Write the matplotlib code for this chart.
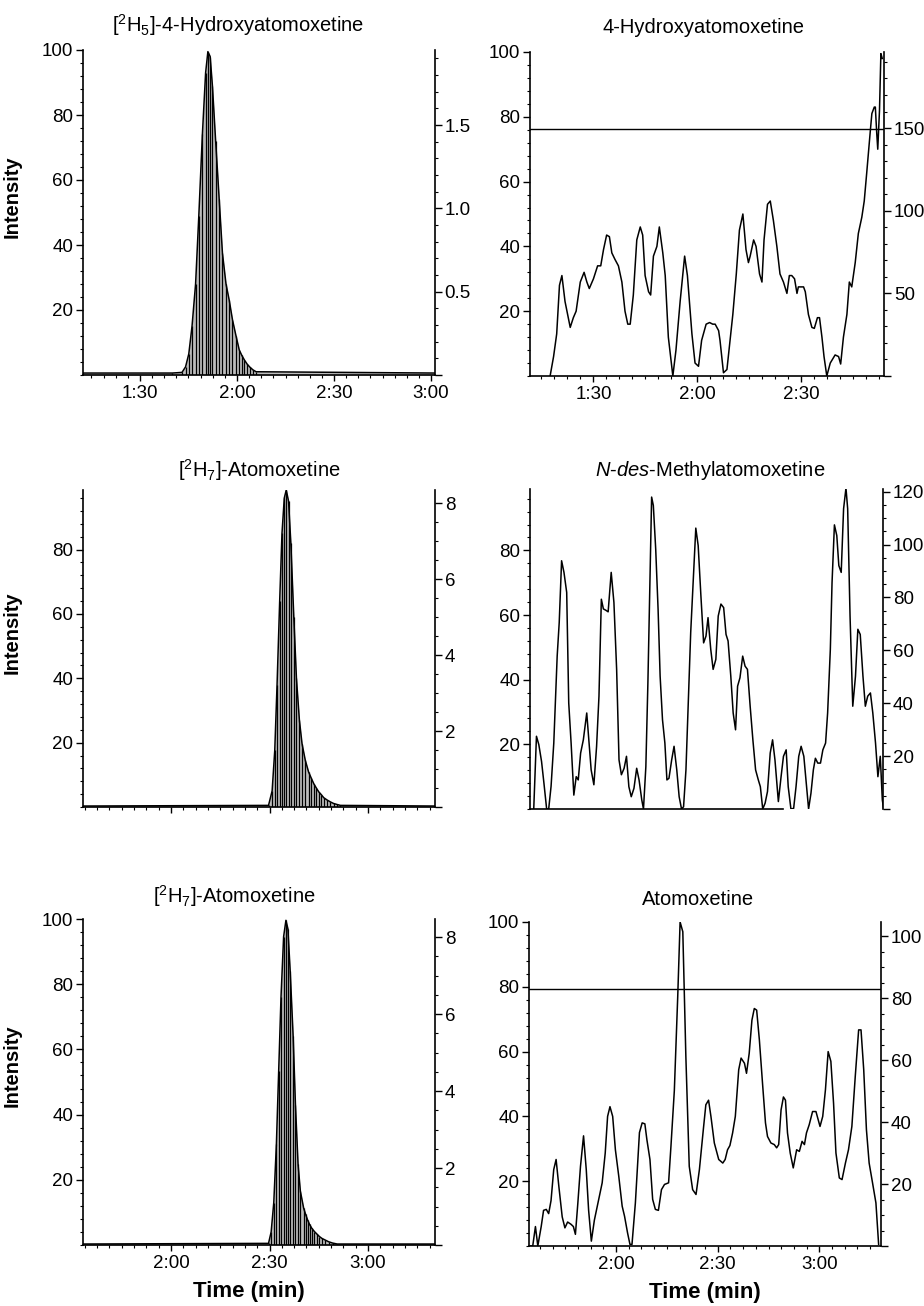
import matplotlib
matplotlib.use('Agg')
import matplotlib.pyplot as plt
from matplotlib.ticker import MultipleLocator, FuncFormatter, NullLocator

plt.rcParams['font.family'] = ['Liberation Sans', 'DejaVu Sans']
plt.rcParams['mathtext.fontset'] = 'custom'
plt.rcParams['mathtext.rm'] = 'Liberation Sans'
plt.rcParams['mathtext.it'] = 'Liberation Sans:italic'
plt.rcParams['mathtext.bf'] = 'Liberation Sans:bold'

# ---- data (time in seconds, relative intensity in %) ----
# [2H5]-4-Hydroxyatomoxetine
d5oh_t = [72.4, 100.0, 103.0, 104.1, 105.1, 106.1, 107.2, 108.2, 109.3, 110.3, 111.0, 111.7,
          112.4, 113.4, 114.5, 115.5, 116.6, 117.6, 118.6, 119.7, 120.7, 121.5, 122.3, 123.1,
          123.9, 124.9, 125.9, 181.2]
d5oh_v = [0.6, 0.6, 0.8, 2.5, 6.5, 15, 28, 49, 74, 93, 99.5, 98,
          89, 72, 54, 37.5, 28, 23, 17, 12, 7.7, 6.0, 4.6, 3.4,
          2.5, 1.6, 1.0, 0.6]

# 4-Hydroxyatomoxetine
oh_t = [77.5, 78.5, 79.4, 80.2, 80.9, 81.8, 83.3, 84.2, 85.0, 86.2, 87.3, 88.1, 88.8, 90.0,
        91.2, 92.1, 92.9, 93.8, 94.6, 95.3, 96.2, 97.2, 98.2, 99.1, 99.9, 100.6, 101.5, 102.5,
        103.5, 104.2, 104.9, 105.9, 106.5, 107.3, 108.3, 109.0, 110.0, 110.7, 111.6, 112.9,
        113.8, 115.0, 116.3, 117.1, 118.4, 119.3, 120.3, 121.2, 122.5, 123.5, 124.4, 125.1,
        126.1, 126.5, 127.5, 128.5, 129.2, 130.2, 131.2, 132.1, 133.1, 134.0, 134.7, 135.2,
        136.2, 136.9, 137.9, 138.6, 139.2, 140.2, 141.0, 141.9, 142.9, 143.8, 144.8, 145.8,
        146.5, 147.2, 148.0, 148.7, 149.1, 150.1, 150.6, 151.1, 152.0, 153.0, 153.7, 154.6,
        155.2, 155.9, 156.5, 157.3, 158.3, 159.7, 160.7, 161.3, 162.1, 163.1, 163.8, 164.5,
        165.5, 166.4, 167.4, 168.1, 168.8, 169.8, 170.3, 171.0, 171.3, 171.7, 172.0, 172.5,
        172.9, 173.3]
oh_v = [0, 6, 13, 28, 31, 23, 15, 18, 20, 29, 32, 29, 27, 30,
        34, 34, 39, 43.5, 43, 38, 36, 34, 29, 20, 16, 16, 25, 42,
        46, 43.5, 31, 26, 25, 37, 40, 46, 38, 31, 12, 0,
        8, 23, 37, 31, 13, 4, 3, 11, 16, 16.5, 16, 16,
        14, 11, 1, 2, 9, 19, 31.5, 45, 50, 39, 35, 37,
        42, 40, 31.5, 29, 42, 53, 54, 48, 40, 31.5, 29, 25.5,
        31, 31, 30, 25.5, 27.5, 27.5, 27.5, 26, 19, 15, 14.7, 18,
        18, 12, 6, 0, 4, 6.5, 6, 3.7, 12, 19, 29, 27.5,
        35, 44, 49, 54, 62.5, 75, 81, 83, 83, 75, 70, 82,
        99.5, 98]

# [2H7]-Atomoxetine (middle row)
d7a_t = [93.2, 149.7, 150.8, 151.6, 152.3, 153.1, 153.8, 154.5, 155.1, 155.8, 156.5, 157.4,
         158.2, 159.1, 159.9, 160.9, 161.9, 162.7, 163.5, 164.2, 165.0, 165.8, 166.5, 167.5,
         168.5, 169.5, 170.5, 171.6, 200.4]
d7a_v = [0.3, 0.5, 5, 17.6, 38, 64, 85, 96, 98.5, 95, 82, 59,
         40, 27, 19.7, 14.5, 10.9, 9.0, 7.2, 6.0, 4.7, 3.8, 2.9, 2.2,
         1.6, 1.1, 0.8, 0.5, 0.3]

# N-des-Methylatomoxetine
ndm_t = [95.4, 96.2, 96.9, 97.7, 98.4, 99.2, 99.8, 100.5, 101.3, 102.3, 102.9, 103.6, 104.3,
         105.1, 105.7, 106.4, 107.2, 107.9, 108.5, 109.2, 110.0, 111.0, 111.6, 112.3, 113.1,
         113.9, 114.6, 115.3, 115.9, 116.6, 117.3, 118.2, 119.0, 119.8, 120.5, 121.2, 122.0,
         122.7, 123.4, 124.1, 124.9, 125.7, 126.4, 127.2, 127.7, 128.4, 129.0, 129.6, 130.1,
         130.6, 131.3, 132.0, 132.6, 133.3, 134.0, 134.6, 135.2, 136.0, 136.7, 137.5, 138.2,
         138.9, 139.5, 140.2, 140.8, 141.6, 142.3, 143.1, 143.8, 144.6, 145.4, 146.1, 146.7,
         147.5, 148.2, 149.0, 149.7, 150.5, 151.3, 152.0, 152.6, 153.4, 154.1, 154.8, 155.4,
         156.1, 156.9, 157.6, 158.3, 159.1, 159.9, 160.7, 161.5, 162.1, 162.8, 163.5, 164.2,
         165.0, 165.7, 166.4, 167.4, 168.2, 168.9, 169.7, 170.3, 171.1, 171.9, 172.6, 173.4,
         174.1, 174.9, 175.6, 176.3, 177.0, 177.7, 178.3, 179.0, 179.8, 180.5, 181.3, 181.9,
         182.7, 183.2, 183.9, 184.6, 185.2, 185.9, 186.6, 187.3, 187.8, 188.5, 189.3, 190.1,
         190.8, 191.5, 192.3, 193.0, 193.7, 194.5, 195.2, 196.0, 196.7, 197.4, 198.0, 198.4]
ndm_v = [0, 22.5, 19.9, 14.7, 8, 0, 0, 7, 20.4, 47.3, 57.7, 76.8, 73.2,
         67, 32.8, 20.4, 4.3, 10, 9, 17.3, 21.4, 29.7, 21.4, 12.1, 7.5,
         19.4, 34.9, 64.9, 61.9, 61.5, 61, 73.2, 63.9, 43.2, 15.2, 10.6, 12.6,
         16.3, 6.9, 3.8, 6.4, 12.6, 9, 2.8, 0, 13.1, 39, 70, 96.5,
         93.9, 80.4, 61.8, 41.1, 27.6, 20.4, 9, 9.5, 15.2, 19.4, 12.1, 3.8,
         0, 0.7, 12.1, 30.7, 54.6, 70, 86.9, 81.5, 66, 51.4, 53.5, 59.2,
         49.4, 43.2, 46.3, 59.7, 63.4, 62.3, 54, 52, 41.1, 29.7, 24.5, 38,
         40.6, 47.3, 44.2, 43.2, 31.8, 21.4, 12.1, 9, 6.9, 0, 1.8, 5.4,
         17.3, 21.4, 15.2, 2.3, 10, 16.3, 18.3, 6.9, 0, 0.2, 6.9, 16.3,
         19.4, 16.3, 8, 0, 4.9, 12.1, 15.7, 14.2, 14.2, 18.3, 20.4, 29.7,
         49.4, 70, 87.9, 84.6, 75.3, 73.2, 92.9, 99.3, 92.9, 59.7, 31.8, 41.1,
         55.6, 54, 41.1, 31.8, 34.9, 35.9, 29.7, 20.4, 10, 16.3, 2.8, 0]

# [2H7]-Atomoxetine (bottom row)
d7b_t = [93.2, 149.7, 150.5, 151.3, 152.1, 152.8, 153.5, 154.3, 155.0, 155.6, 156.3, 157.2,
         157.9, 158.7, 159.4, 160.4, 161.0, 161.6, 162.2, 162.9, 163.7, 164.5, 165.2, 166.0,
         167.0, 168.0, 169.2, 170.6, 200.4]
d7b_v = [0.3, 0.5, 4, 13, 31, 53.5, 76, 94.6, 99.6, 97, 84, 64,
         43, 24.7, 16.5, 11.3, 9.4, 7.7, 6.3, 5.1, 4.1, 3.3, 2.6, 2.0,
         1.5, 1.0, 0.6, 0.3, 0.3]

# Atomoxetine
atx_t = [94.3, 95.4, 96.2, 96.9, 97.9, 98.6, 99.4, 100.1, 100.8, 101.6, 102.3, 103.1, 104.1,
         104.9, 105.7, 106.7, 107.4, 108.0, 108.7, 109.5, 110.4, 111.2, 111.9, 112.7, 113.6,
         114.6, 115.9, 116.8, 117.5, 118.2, 119.0, 119.8, 120.8, 121.8, 122.5, 123.4, 124.1,
         124.7, 125.7, 126.9, 127.7, 128.5, 129.1, 130.0, 130.8, 131.6, 132.5, 133.4, 134.3,
         135.5, 136.2, 137.2, 138.2, 138.9, 139.7, 140.6, 141.6, 142.6, 143.6, 144.6, 145.8,
         146.5, 147.3, 148.0, 149.0, 150.3, 151.5, 152.2, 152.9, 153.6, 154.4, 155.2, 156.2,
         156.9, 157.9, 158.5, 159.3, 160.1, 160.8, 161.5, 162.3, 163.3, 164.1, 164.7, 165.7,
         166.7, 167.4, 168.0, 168.7, 169.4, 170.0, 170.6, 171.4, 172.3, 173.3, 174.1, 174.9,
         175.6, 176.2, 177.0, 178.0, 179.0, 180.2, 181.0, 181.8, 182.6, 183.4, 184.2, 184.9,
         185.9, 186.7, 187.7, 188.6, 189.6, 190.6, 191.6, 192.3, 193.1, 193.9, 194.7, 195.7,
         196.7, 197.5]
atx_v = [0, 0, 6, 0, 6, 11, 11.3, 10, 14, 23.6, 26.7, 18.5, 9,
         5.6, 7.4, 6.7, 6, 3.6, 13, 24.6, 34, 23.6, 11, 1.5, 8,
         13, 19.5, 28.7, 40, 43, 40, 29.7, 21.5, 12.3, 9.2, 4, 0.5,
         0.5, 13.3, 35, 38, 37.7, 32.8, 26.7, 14.4, 11.3, 11, 17.4, 19,
         19.5, 30.8, 48, 77, 100, 97, 58.5, 24.6, 17.4, 15.9, 23.6, 36.4,
         43.6, 45, 40, 31.8, 26.7, 25.6, 26.7, 29.7, 31, 34.9, 40, 54.4,
         58, 56.4, 53.3, 59.5, 69.7, 73.3, 72.8, 63.6, 49.2, 38, 33.8, 31.8,
         31.3, 30.3, 31.3, 42, 46, 45, 34.9, 28.7, 24.1, 29.7, 29.2, 32.3,
         31.3, 34.9, 37.4, 41.5, 41.5, 36.9, 40, 48.2, 60, 57, 44, 28.7,
         21, 20.5, 25.6, 29.7, 36.9, 52.3, 66.7, 66.7, 54.4, 35.9, 25.6, 19.5,
         13.3, 0.5]

oh_threshold = 76.3
atx_threshold = 79.3


def mmss(s, pos=None):
    s = int(round(s))
    return f"{s // 60}:{s % 60:02d}"


def make_panel(rect, t, v, title, title_x, title_pad, xlim, ylim, rlim, rmajor, rminor,
               rfmt, filled=False, xlabels=True, xticks=True, threshold=None,
               ylabel=False, xlabel=False, yticks=(20, 40, 60, 80, 100)):
    ax = fig.add_axes(rect)
    ax.plot(t, v, color='black', lw=1.1, zorder=3)
    if filled:
        # shaded integration area with the scan stems on top
        ax.fill_between(t, 0, v, color='#bdbdbd', lw=0, zorder=1)
        ax.vlines(t, 0, v, color='black', lw=0.9, zorder=2)
    if threshold is not None:
        ax.axhline(threshold, color='black', lw=1.0)
    ax.set_xlim(*xlim)
    ax.set_ylim(*ylim)
    for s in ['top', 'right']:
        ax.spines[s].set_visible(False)
    for s in ['left', 'bottom']:
        ax.spines[s].set_linewidth(1.2)
    ax.set_yticks(list(yticks))
    ax.yaxis.set_minor_locator(MultipleLocator(4))
    ax.tick_params(axis='y', which='major', direction='out', length=5, width=1, labelsize=13.5, pad=2)
    ax.tick_params(axis='y', which='minor', direction='out', length=2.5, width=0.8)
    if xticks:
        ax.xaxis.set_major_locator(MultipleLocator(30))
        ax.xaxis.set_minor_locator(MultipleLocator(3.75))
        ax.xaxis.set_major_formatter(FuncFormatter(mmss))
        ax.tick_params(axis='x', which='major', direction='out', length=4, width=1, labelsize=13.5, pad=3)
        ax.tick_params(axis='x', which='minor', direction='out', length=2.5, width=0.8)
        if not xlabels:
            ax.tick_params(axis='x', labelbottom=False)
    else:
        ax.xaxis.set_major_locator(NullLocator())
        ax.xaxis.set_minor_locator(NullLocator())

    rax = ax.twinx()
    rax.set_ylim(*rlim)
    for s in ['top', 'left', 'bottom']:
        rax.spines[s].set_visible(False)
    rax.spines['right'].set_linewidth(1.2)
    rax.yaxis.set_major_locator(MultipleLocator(rmajor))
    rax.yaxis.set_minor_locator(MultipleLocator(rminor))
    rax.yaxis.set_major_formatter(FuncFormatter(lambda y, p: rfmt.format(y) if y > 0 else ''))
    rax.tick_params(axis='y', which='major', direction='out', length=5, width=1, labelsize=13.5, pad=2)
    rax.tick_params(axis='y', which='minor', direction='out', length=2.5, width=0.8)

    ax.annotate(title, xy=(title_x, 1.0), xycoords='axes fraction', xytext=(0, title_pad),
                textcoords='offset points', ha='center', va='baseline', fontsize=14.5)
    if ylabel:
        ax.set_ylabel('Intensity', fontsize=14.5, fontweight='bold')
        ax.yaxis.set_label_coords(-0.175, 0.55)
    if xlabel:
        ax.set_xlabel('Time (min)', fontsize=16, fontweight='bold')
    return ax


W, H = 924, 1306
fig = plt.figure(figsize=(W / 100, H / 100), dpi=100)


def box(left, right, top, bottom):
    return [left / W, 1 - bottom / H, (right - left) / W, (bottom - top) / H]


make_panel(box(83, 435, 50, 375), d5oh_t, d5oh_v, r'[$^{\mathrm{2}}$H$_{\mathrm{5}}$]-4-Hydroxyatomoxetine',
           0.44, 13, (72.4, 181.2), (0, 100), (0, 1.95), 0.5, 0.1, '{:.1f}',
           filled=True, ylabel=True)
make_panel(box(530, 884, 52, 376), oh_t, oh_v, '4-Hydroxyatomoxetine',
           0.49, 13.5, (71.7, 173.8), (0, 100), (0, 196), 50, 10, '{:.0f}',
           threshold=oh_threshold)
make_panel(box(83, 435, 490, 807), d7a_t, d7a_v, r'[$^{\mathrm{2}}$H$_{\mathrm{7}}$]-Atomoxetine',
           0.5, 9.5, (93.2, 200.4), (0, 98.5), (0, 8.35), 2, 0.5, '{:.0f}',
           filled=True, xlabels=False, ylabel=True, yticks=(20, 40, 60, 80))
ax4 = make_panel(box(530, 883, 489, 809), ndm_t, ndm_v, r'$\mathit{N}$-$\mathit{des}$-Methylatomoxetine',
                 0.51, 9.5, (94.3, 198.2), (0, 99), (0, 121), 20, 5, '{:.0f}',
                 xticks=False, yticks=(20, 40, 60, 80))
ax4.spines['bottom'].set_bounds(94.3, 168.7)
ax5 = make_panel(box(83, 435, 919, 1245), d7b_t, d7b_v, r'[$^{\mathrm{2}}$H$_{\mathrm{7}}$]-Atomoxetine',
                 0.43, 11.5, (93.2, 200.4), (0, 100), (0, 8.47), 2, 0.5, '{:.0f}',
                 filled=True, ylabel=True, xlabel=True)
ax5.xaxis.set_label_coords(0.47, -0.11)
ax6 = make_panel(box(529, 881, 922, 1246), atx_t, atx_v, 'Atomoxetine',
                 0.48, 12.5, (94.3, 198.2), (0, 100), (0, 104.6), 20, 5, '{:.0f}',
                 threshold=atx_threshold, xlabel=True)
ax6.xaxis.set_label_coords(0.5, -0.11)

fig.savefig('out.png', dpi=100)
